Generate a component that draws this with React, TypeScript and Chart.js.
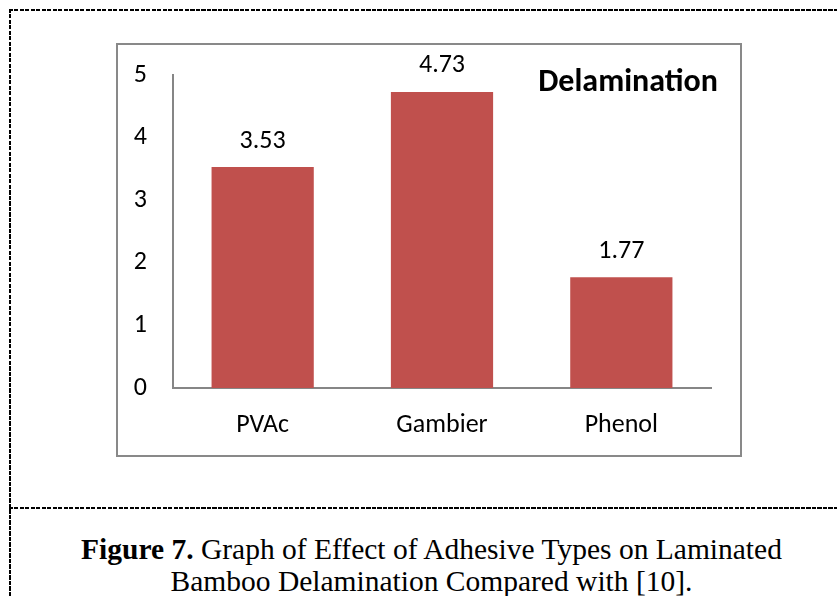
import React, { useEffect, useRef } from "react";
import { Chart, registerables } from "chart.js";

Chart.register(...registerables);

const categories = ["PVAc", "Gambier", "Phenol"];
const delamination = [3.53, 4.73, 1.77];
const yTickValues = [0, 1, 2, 3, 4, 5];
const chartTitle = "Delamination";
const captionBold = "Figure 7.";
const captionLine1 = " Graph of Effect of Adhesive Types on Laminated";
const captionLine2 = "Bamboo Delamination Compared with [10].";

const FONT = "Carlito, 'Open Sans', sans-serif";

const labelPlugin = {
  id: "valueLabels",
  afterDatasetsDraw(chart: any) {
    const { ctx } = chart;
    const meta = chart.getDatasetMeta(0);
    ctx.save();
    ctx.fillStyle = "#000";
    ctx.font = `26px ${FONT}`;
    ctx.textAlign = "center";
    ctx.textBaseline = "middle";
    meta.data.forEach((bar: any, i: number) => {
      ctx.fillText(delamination[i].toFixed(2), bar.x, bar.y - 26);
    });
    ctx.font = `bold 32px ${FONT}`;
    ctx.fillText(chartTitle, 510, 38);
    ctx.restore();
  },
};

export default function App() {
  const ref = useRef<HTMLCanvasElement>(null);
  useEffect(() => {
    if (!ref.current) return;
    const chart = new Chart(ref.current, {
      type: "bar",
      data: {
        labels: categories,
        datasets: [
          {
            data: delamination,
            backgroundColor: "#C0504D",
            borderWidth: 0,
            categoryPercentage: 1,
            barPercentage: 0.57,
          },
        ],
      },
      plugins: [labelPlugin],
      options: {
        responsive: false,
        animation: false,
        events: [],
        layout: { padding: { top: 30, right: 29, left: 0, bottom: 0 } },
        plugins: { legend: { display: false }, tooltip: { enabled: false }, title: { display: false } },
        scales: {
          x: {
            grid: { display: false, drawTicks: false },
            border: { display: true, color: "#868686", width: 2 },
            ticks: { color: "#000", font: { family: FONT, size: 26 }, padding: 22 },
            afterFit(scale: any) {
              scale.height = 67;
              scale.paddingLeft = 0;
              scale.paddingRight = 0;
            },
          },
          y: {
            min: 0,
            max: 5,
            grid: { display: false, drawTicks: false },
            border: { display: true, color: "#868686", width: 2 },
            afterBuildTicks(scale: any) {
              scale.ticks = yTickValues.map((v) => ({ value: v }));
            },
            ticks: { color: "#000", font: { family: FONT, size: 26 }, padding: 26 },
            afterFit(scale: any) {
              scale.width = 55;
              scale.paddingTop = 0;
              scale.paddingBottom = 0;
            },
          },
        },
      },
    });
    return () => chart.destroy();
  }, []);

  const dashH = "repeating-linear-gradient(to right, #000 0 4px, transparent 4px 5.5px)";
  const dashV = "repeating-linear-gradient(to bottom, #000 0 4px, transparent 4px 5.5px)";

  return (
    <div style={{ position: "absolute", left: 0, top: 0, width: 837, height: 596, overflow: "hidden", background: "#fff" }}>
      <div style={{ position: "absolute", left: 9, top: 9, width: 900, height: 2, background: dashH }} />
      <div style={{ position: "absolute", left: 9, top: 9, width: 2, height: 600, background: dashV }} />
      <div style={{ position: "absolute", left: 9, top: 507, width: 900, height: 2, background: dashH }} />
      <div
        style={{
          position: "absolute",
          left: 116,
          top: 43,
          width: 626,
          height: 414,
          border: "2px solid #898989",
          boxSizing: "border-box",
          background: "#fff",
        }}
      >
        <canvas ref={ref} width={622} height={410} style={{ display: "block", width: 622, height: 410 }} />
      </div>
      <div
        style={{
          position: "absolute",
          left: 10,
          top: 533,
          width: 843,
          textAlign: "center",
          fontFamily: "'Liberation Serif', 'Times New Roman', serif",
          fontSize: 29.5,
          lineHeight: "32px",
          color: "#000",
        }}
      >
        <b>{captionBold}</b>
        {captionLine1}
        <br />
        {captionLine2}
      </div>
    </div>
  );
}
